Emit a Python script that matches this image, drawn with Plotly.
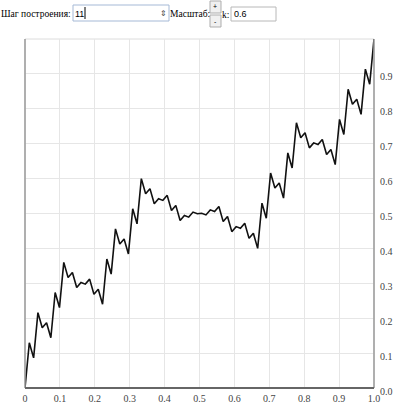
import plotly.graph_objects as go

# Fractal curve values read at x = i/81 (step 11 view, k = 0.6)
y_vals = [
    0, .1296, .0864, .216, .1728, .1872, .144, .2736, .2304, .36,
    .3168, .3312, .288, .3024, .2976, .312, .2688, .2832, .24, .3696,
    .3264, .456, .4128, .4272, .384, .5136, .4704, .6,
    .5568, .5712, .528, .5424, .5376, .552, .5088, .5232, .48,
    .4944, .4896, .504, .4992, .5008, .496, .5104, .5056, .52,
    .4768, .4912, .448, .4624, .4576, .472, .4288, .4432, .4,
    .5296, .4864, .616, .5728, .5872, .544, .6736, .6304, .76,
    .7168, .7312, .688, .7024, .6976, .712, .6688, .6832, .64,
    .7696, .7264, .856, .8128, .8272, .784, .9136, .8704, 1.0,
]
n_steps = len(y_vals) - 1
x_vals = [i / n_steps for i in range(len(y_vals))]

x_tickvals = [0, 0.1, 0.2, 0.3, 0.4, 0.5, 0.6, 0.7, 0.8, 0.9, 1.0]
x_ticktext = ["0", "0.1", "0.2", "0.3", "0.4", "0.5", "0.6", "0.7", "0.8", "0.9", "1.0"]
y_tickvals = [0, 0.1, 0.2, 0.3, 0.4, 0.5, 0.6, 0.7, 0.8, 0.9]
y_ticktext = ["0.0", "0.1", "0.2", "0.3", "0.4", "0.5", "0.6", "0.7", "0.8", "0.9"]

W, H = 395, 404
L, R, T, B = 25, 21, 39, 16
PW, PH = W - L - R, H - T - B


def px(x):
    return (x - L) / PW


def py(y):
    return (H - B - y) / PH


SERIF = "Liberation Serif"
SANS = "Liberation Sans"

fig = go.Figure()
fig.add_trace(go.Scatter(
    x=x_vals, y=y_vals, mode="lines",
    line=dict(color="#111111", width=1.6),
    hoverinfo="skip", showlegend=False,
))

shapes = []
annotations = []

# plot frame
shapes.append(dict(type="rect", xref="paper", yref="paper", x0=0, x1=1, y0=0, y1=1,
                   line=dict(color="#dcdcdc", width=1), layer="below"))
shapes.append(dict(type="line", xref="paper", yref="paper", x0=0, x1=0, y0=0, y1=1,
                   line=dict(color="#9a9a9a", width=1.5)))
shapes.append(dict(type="line", xref="paper", yref="paper", x0=1, x1=1, y0=0, y1=1,
                   line=dict(color="#9a9a9a", width=1.5)))
shapes.append(dict(type="line", xref="paper", yref="paper", x0=0, x1=1, y0=0, y1=0,
                   line=dict(color="#666666", width=2)))


# header controls
def text(x, y, s, size=10, font=SERIF, color="#000"):
    annotations.append(dict(xref="paper", yref="paper", x=px(x), y=py(y), text=s,
                            showarrow=False, xanchor="left", yanchor="middle",
                            borderpad=0, borderwidth=0,
                            font=dict(family=font, size=size, color=color)))


def box(x0, y0, x1, y1, fill="#ffffff", line="#a5b9d6"):
    shapes.append(dict(type="rect", xref="paper", yref="paper", layer="below",
                       x0=px(x0), x1=px(x1), y0=py(y1), y1=py(y0),
                       fillcolor=fill, line=dict(color=line, width=1)))


text(1, 14, "Шаг построения:", size=9.5)
box(73, 5, 169, 21)
text(75, 13.5, "11", size=9, font=SANS)
shapes.append(dict(type="line", xref="paper", yref="paper", x0=px(85), x1=px(85),
                   y0=py(19), y1=py(7), line=dict(color="#000", width=1)))
text(160, 13.5, "⇕", size=8, font="DejaVu Sans", color="#444")
text(170, 14, "Масштаб:", size=9.5)
box(210, 1, 221, 13, fill="#f0f0f0", line="#adadad")
box(210, 15, 221, 27, fill="#f0f0f0", line="#adadad")
text(212.5, 6.5, "+", size=7, font=SANS)
text(213.5, 21, "-", size=7, font=SANS)
text(222, 14.5, "k:", size=9.5)
box(231, 7, 276, 21, line="#b8b8b8")
text(234, 14, "0.6", size=9, font=SANS)

fig.update_layout(
    width=W, height=H,
    margin=dict(l=L, r=R, t=T, b=B, pad=0, autoexpand=False),
    paper_bgcolor="white", plot_bgcolor="white",
    shapes=shapes, annotations=annotations,
    xaxis=dict(range=[0, 1], tickvals=x_tickvals, ticktext=x_ticktext,
               showgrid=True, gridcolor="#e6e6e6", gridwidth=1, automargin=False,
               zeroline=False, showline=False, ticks="",
               tickfont=dict(family=SERIF, size=10, color="#444"), ticklabelstandoff=3),
    yaxis=dict(range=[0, 1], tickvals=y_tickvals, ticktext=y_ticktext, side="right",
               showgrid=True, gridcolor="#e6e6e6", gridwidth=1, automargin=False,
               zeroline=False, showline=False, ticks="",
               ticklabelstandoff=5, ticklabelshift=3,
               tickfont=dict(family=SERIF, size=10, color="#444")),
)

fig.write_html("out.html")
